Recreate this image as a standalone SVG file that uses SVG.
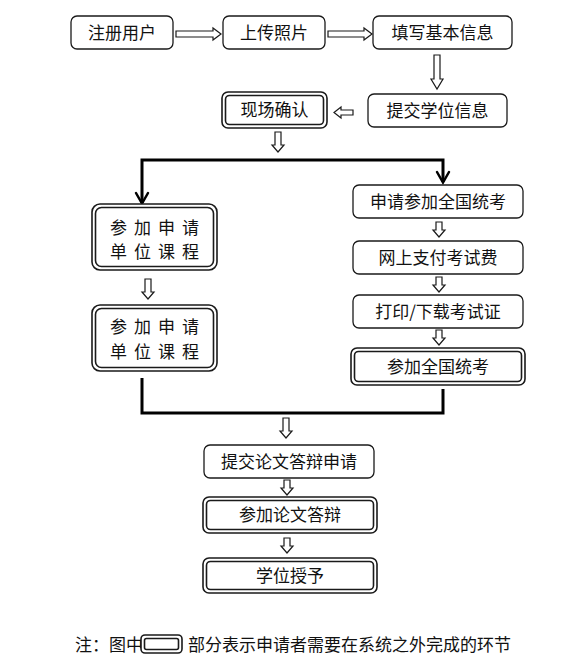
<svg xmlns="http://www.w3.org/2000/svg" width="574" height="671" viewBox="0 0 574 671">
<style>
  .bg{fill:#ffffff}
  .box{fill:#ffffff;stroke:#1a1a1a;stroke-width:1.3}
  .dbo{fill:#ffffff;stroke:#1a1a1a;stroke-width:1.6}
  .dbi{fill:none;stroke:#1a1a1a;stroke-width:1.6}
  .t{font-family:"Noto Sans CJK SC","Noto Sans",sans-serif;font-size:17px;fill:#111;text-anchor:middle}
  .ts{font-family:"Noto Sans CJK SC","Noto Sans",sans-serif;font-size:17px;fill:#111;letter-spacing:7px;text-anchor:middle}
  .fn{font-family:"Noto Sans CJK SC","Noto Sans",sans-serif;font-size:17px;fill:#111}
  .ha{fill:#ffffff;stroke:#1a1a1a;stroke-width:1.2;stroke-linejoin:miter}
  .thick{fill:none;stroke:#000;stroke-width:3;stroke-linejoin:miter}
  .vh{fill:none;stroke:#000;stroke-width:2.5;stroke-linecap:round;stroke-linejoin:miter}
</style>
<rect class="bg" x="0" y="0" width="574" height="671"/>

<g id="connectors">
  <!-- hollow arrows -->
  <polygon class="ha" points="176,31 213,31 213,28 221,34 213,40 213,37 176,37"/>
  <polygon class="ha" points="328,31 364,31 364,28 372,34 364,40 364,37 328,37"/>
  <polygon class="ha" points="434,55 440,55 440,79 443,79 437,89 431,79 434,79"/>
  <polygon class="ha" points="353,110 341,110 341,107 334,112.5 341,118 341,115 353,115"/>
  <polygon class="ha" points="275,132 281,132 281,145 284,145 278,152 272,145 275,145"/>
  <polygon class="ha" points="145,279 151,279 151,292 154,292 148,299 142,292 145,292"/>
  <polygon class="ha" points="436,222 442,222 442,230 445,230 439,237 433,230 436,230"/>
  <polygon class="ha" points="436,277 442,277 442,285 445,285 439,292 433,285 436,285"/>
  <polygon class="ha" points="436,330 442,330 442,338 445,338 439,345 433,338 436,338"/>
  <polygon class="ha" points="283,418 289,418 289,431 292,431 286,438 280,431 283,431"/>
  <polygon class="ha" points="284,480 290,480 290,488 293,488 287,495 281,488 284,488"/>
  <polygon class="ha" points="284,538 290,538 290,546 293,546 287,553 281,546 284,546"/>
  <!-- thick branch lines -->
  <path class="thick" d="M142,203 V160 H443 V182"/>
  <path class="vh" d="M136,193 L142,203.5 L148,193"/>
  <path class="vh" d="M437,172 L443,182.5 L449,172"/>
  <path class="thick" d="M142,378 V413 H443 V389"/>
</g>

<g id="n1"><rect class="box" x="71" y="16" width="102" height="33" rx="6"/><text class="t" x="122" y="38.5">注册用户</text></g>
<g id="n2"><rect class="box" x="223" y="16" width="102" height="33" rx="6"/><text class="t" x="274" y="38.5">上传照片</text></g>
<g id="n3"><rect class="box" x="373" y="16" width="139" height="33" rx="6"/><text class="t" x="442.5" y="38.5">填写基本信息</text></g>
<g id="n4"><rect class="box" x="368" y="94" width="139" height="33" rx="6"/><text class="t" x="437.5" y="116.5">提交学位信息</text></g>
<g id="n5"><rect class="dbo" x="222" y="92" width="105" height="36" rx="6"/><rect class="dbi" x="225.5" y="95.5" width="98" height="29" rx="4"/><text class="t" x="274.5" y="116">现场确认</text></g>
<g id="n6"><rect class="dbo" x="92" y="204" width="125" height="66" rx="8"/><rect class="dbi" x="95.5" y="207.5" width="118" height="59" rx="6"/><text class="ts" x="158" y="234">参加申请</text><text class="ts" x="158" y="258">单位课程</text></g>
<g id="n7"><rect class="dbo" x="92" y="305" width="125" height="66" rx="8"/><rect class="dbi" x="95.5" y="308.5" width="118" height="59" rx="6"/><text class="ts" x="158" y="333">参加申请</text><text class="ts" x="158" y="358">单位课程</text></g>
<g id="n8"><rect class="box" x="353" y="185" width="170" height="33" rx="6"/><text class="t" x="438" y="207.5">申请参加全国统考</text></g>
<g id="n9"><rect class="box" x="353" y="241" width="170" height="33" rx="6"/><text class="t" x="438" y="263.5">网上支付考试费</text></g>
<g id="n10"><rect class="box" x="353" y="295" width="170" height="33" rx="6"/><text class="t" x="438" y="317.5">打印/下载考试证</text></g>
<g id="n11"><rect class="dbo" x="351" y="348" width="174" height="37" rx="6"/><rect class="dbi" x="354.5" y="351.5" width="167" height="30" rx="4"/><text class="t" x="438" y="372.5">参加全国统考</text></g>
<g id="n12"><rect class="box" x="204" y="445" width="170" height="33" rx="6"/><text class="t" x="289" y="467.5">提交论文答辩申请</text></g>
<g id="n13"><rect class="dbo" x="203" y="497" width="174" height="36" rx="6"/><rect class="dbi" x="206.5" y="500.5" width="167" height="29" rx="4"/><text class="t" x="290" y="521">参加论文答辩</text></g>
<g id="n14"><rect class="dbo" x="203" y="558" width="174" height="35" rx="6"/><rect class="dbi" x="206.5" y="561.5" width="167" height="28" rx="4"/><text class="t" x="290" y="581.5">学位授予</text></g>

<g id="footnote">
  <text class="fn" x="75" y="651">注：图中</text>
  <rect class="dbo" x="141" y="635" width="41" height="18" rx="4"/>
  <rect class="dbi" x="144.5" y="638.5" width="34" height="11" rx="2"/>
  <text class="fn" x="188" y="651">部分表示申请者需要在系统之外完成的环节</text>
</g>
</svg>
